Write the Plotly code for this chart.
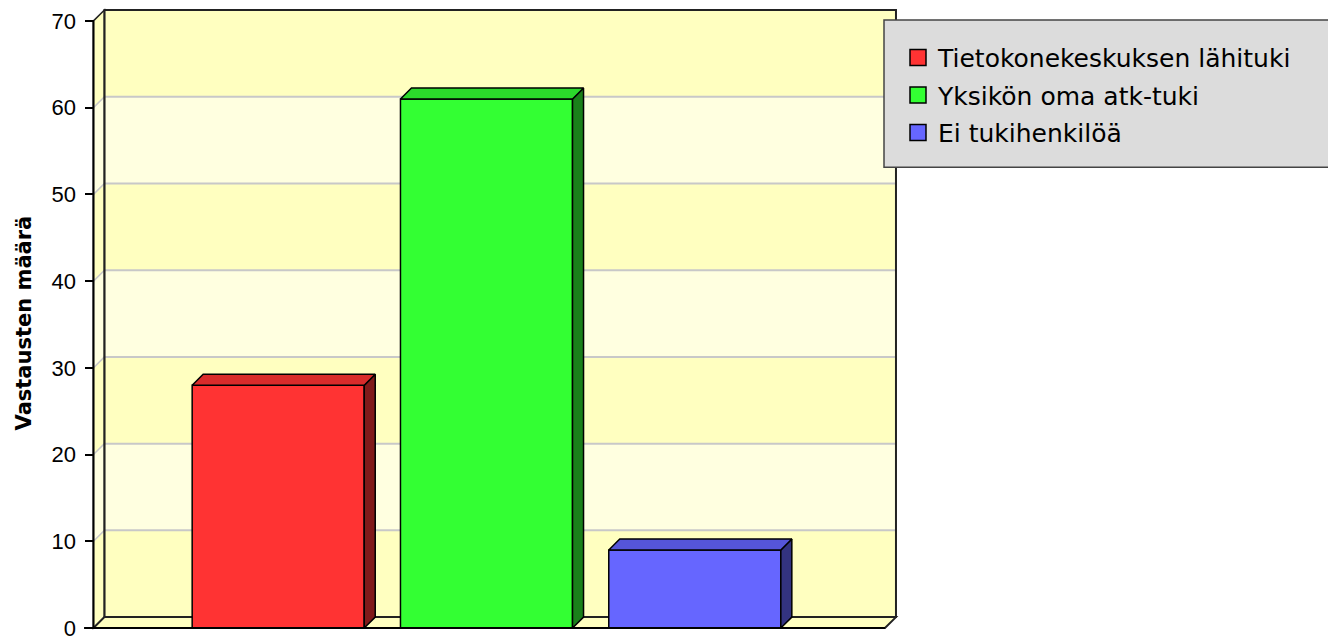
import plotly.graph_objects as go

# ---- data ----
categories = ["Tietokonekeskuksen lähituki", "Yksikön oma atk-tuki", "Ei tukihenkilöä"]
values = [28, 61, 9]
y_ticks = [0, 10, 20, 30, 40, 50, 60, 70]
y_title = "Vastausten määrä"

# ---- styles ----
front_colors = ["#FF3333", "#33FF33", "#6666FF"]
top_colors = ["#D92B2B", "#2BD92B", "#5555D9"]
side_colors = ["#801A1A", "#1A801A", "#333380"]
BAND_DARK = "#FFFFC0"
BAND_LIGHT = "#FFFFE0"
GRID = "#C8C8C8"

W, H = 1328, 641
BAR_W = 0.826
DX = 0.0528      # depth offset in x units
DY = 1.263       # depth offset in y units
X0, X1 = -0.887, 2.913   # front floor extent
YMAX = 70

fig = go.Figure()

# bars (front faces)
for i, (c, v) in enumerate(zip(categories, values)):
    fig.add_trace(go.Bar(
        x=[i], y=[v], name=c, width=BAR_W,
        marker=dict(color=front_colors[i], line=dict(color="black", width=1.5)),
        legendgroup=c, showlegend=False, hoverinfo="skip"))

# 3D side and top faces
for i, v in enumerate(values):
    l, r = i - BAR_W / 2, i + BAR_W / 2
    fig.add_trace(go.Scatter(
        x=[r, r + DX, r + DX, r, r], y=[0, DY, v + DY, v, 0],
        fill="toself", fillcolor=side_colors[i], mode="lines",
        line=dict(color="black", width=1.5), showlegend=False, hoverinfo="skip"))
    fig.add_trace(go.Scatter(
        x=[l, l + DX, r + DX, r, l], y=[v, v + DY, v + DY, v, v],
        fill="toself", fillcolor=top_colors[i], mode="lines",
        line=dict(color="black", width=1.5), showlegend=False, hoverinfo="skip"))

# legend entries (square swatches)
for i, c in enumerate(categories):
    fig.add_trace(go.Scatter(
        x=[None], y=[None], name=c, mode="markers", legendgroup=c,
        marker=dict(symbol="square", size=20, color=front_colors[i],
                    line=dict(color="black", width=1.5)),
        showlegend=True, hoverinfo="skip"))

shapes = []
# back wall bands + left wall bands
for k in range(len(y_ticks) - 1):
    lo, hi = y_ticks[k], y_ticks[k + 1]
    col = BAND_DARK if k % 2 == 0 else BAND_LIGHT
    shapes.append(dict(type="rect", xref="x", yref="y", layer="below",
                       x0=X0 + DX, x1=X1 + DX, y0=lo + DY, y1=hi + DY,
                       fillcolor=col, line=dict(width=0)))
    shapes.append(dict(type="path", xref="x", yref="y", layer="below",
                       path=f"M {X0},{lo} L {X0},{hi} L {X0+DX},{hi+DY} L {X0+DX},{lo+DY} Z",
                       fillcolor=col, line=dict(width=0)))
# grid lines
for t in y_ticks[1:-1]:
    shapes.append(dict(type="line", xref="x", yref="y", layer="below",
                       x0=X0 + DX, x1=X1 + DX, y0=t + DY, y1=t + DY,
                       line=dict(color=GRID, width=2)))
    shapes.append(dict(type="line", xref="x", yref="y", layer="below",
                       x0=X0, x1=X0 + DX, y0=t, y1=t + DY,
                       line=dict(color=GRID, width=1.5)))
# back wall outline
shapes.append(dict(type="rect", xref="x", yref="y", layer="below",
                   x0=X0 + DX, x1=X1 + DX, y0=DY, y1=YMAX + DY,
                   fillcolor="rgba(0,0,0,0)", line=dict(color="#222", width=2)))
# left wall outline
shapes.append(dict(type="path", xref="x", yref="y", layer="below",
                   path=f"M {X0},0 L {X0},{YMAX} L {X0+DX},{YMAX+DY} L {X0+DX},{DY} Z",
                   fillcolor="rgba(0,0,0,0)", line=dict(color="#222", width=1.5)))
# floor
shapes.append(dict(type="path", xref="x", yref="y", layer="below",
                   path=f"M {X0},0 L {X1},0 L {X1+DX},{DY} L {X0+DX},{DY} Z",
                   fillcolor=BAND_DARK, line=dict(color="#222", width=2)))
# front axis line and floor front line
shapes.append(dict(type="line", xref="x", yref="y", layer="above",
                   x0=X0, x1=X0, y0=0, y1=YMAX, line=dict(color="black", width=2)))
shapes.append(dict(type="line", xref="x", yref="y", layer="above",
                   x0=X0 - 0.045, x1=X1, y0=0, y1=0, line=dict(color="black", width=2)))
# legend box
shapes.append(dict(type="rect", xref="paper", yref="paper", layer="above",
                   x0=884 / W, x1=1.02, y0=1 - 168 / H, y1=1 - 20 / H,
                   fillcolor="#DCDCDC", line=dict(color="#444", width=1.5)))

# pixel-calibrated axis ranges
px_per_x = 208.3
x_center0 = 278.2
y_zero_px = 631.0
px_per_y = 8.714
xr = [(0 - x_center0) / px_per_x, (W - x_center0) / px_per_x]
yr = [(y_zero_px - H) / px_per_y, y_zero_px / px_per_y]

fig.update_layout(
    width=W, height=H,
    margin=dict(l=0, r=0, t=0, b=0),
    paper_bgcolor="white", plot_bgcolor="rgba(0,0,0,0)",
    barmode="overlay",
    shapes=shapes,
    showlegend=True,
    legend=dict(x=898 / W, y=1 - 35 / H, xanchor="left", yanchor="top",
                bgcolor="rgba(0,0,0,0)", borderwidth=0,
                font=dict(family="DejaVu Sans", size=25, color="black"),
                itemsizing="trace",
                traceorder="grouped", tracegroupgap=2),
    xaxis=dict(range=xr, visible=False, fixedrange=True),
    yaxis=dict(range=yr, anchor="free", position=93.5 / W,
               tickvals=y_ticks, ticktext=[str(t) for t in y_ticks],
               ticks="outside", ticklen=9, tickwidth=2, tickcolor="black",
               showline=False, showgrid=False, zeroline=False,
               ticklabelstandoff=4, ticklabeloverflow="allow",
               tickfont=dict(family="Liberation Sans", size=22, color="black")),
    annotations=[dict(text="<b>" + y_title + "</b>", textangle=-90,
                      xref="paper", yref="paper",
                      x=24 / W, y=1 - 325 / H, showarrow=False,
                      font=dict(family="DejaVu Sans", size=21, color="black"),
                      xanchor="center", yanchor="middle")],
)

fig.write_html("out.html", config={"displayModeBar": False},
               post_script="document.body.style.margin='0';document.body.style.overflow='hidden';")
